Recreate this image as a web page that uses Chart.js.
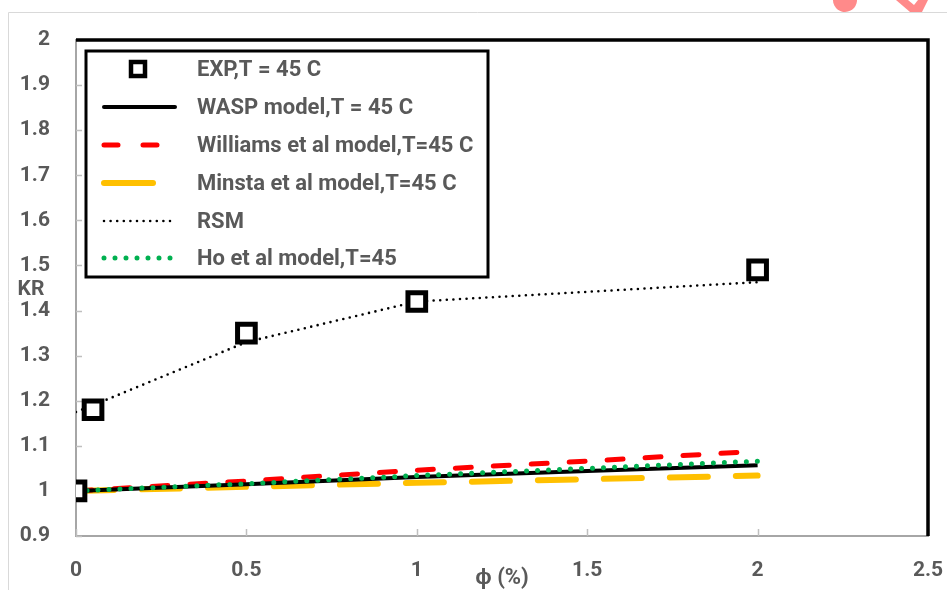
<!DOCTYPE html>
<html><head><meta charset="utf-8">
<script src="https://cdn.jsdelivr.net/npm/chart.js@4/dist/chart.umd.min.js"></script>
<style>html,body{margin:0;padding:0;background:#fff;overflow:hidden}</style>
</head>
<body>
<canvas id="c" width="947" height="590"></canvas>
<script>
// ---- data ----
const xTickVals = [0, 0.5, 1, 1.5, 2, 2.5];
const xTickLabels = ['0', '0.5', '1', '1.5', '2', '2.5'];
const yTickVals = [0.9, 1.0, 1.1, 1.2, 1.3, 1.4, 1.5, 1.6, 1.7, 1.8, 1.9, 2.0];
const yTickLabels = ['0.9', '1', '1.1', '1.2', '1.3', '1.4', '1.5', '1.6', '1.7', '1.8', '1.9', '2'];

const expPhi = [0, 0.05, 0.5, 1, 2];
const expKR = [1.00, 1.18, 1.35, 1.42, 1.49];

const rsmPhi = [0, 0.05, 0.5, 1, 2];
const rsmKR = [1.175, 1.19, 1.33, 1.42, 1.463];

const modelPhi = [0, 0.5, 1, 1.5, 2];
const waspKR = [1.000, 1.015, 1.031, 1.044, 1.057];
const williamsKR = [1.000, 1.022, 1.046, 1.066, 1.088];
const minstaKR = [1.000, 1.009, 1.018, 1.026, 1.034];
const hoKR = [1.000, 1.016, 1.034, 1.050, 1.066];

const seriesNames = ['EXP,T = 45 C', 'WASP model,T = 45 C', 'Williams et al model,T=45 C',
  'Minsta et al model,T=45 C', 'RSM', 'Ho et al model,T=45'];

const pts = (xs, ys) => xs.map((x, i) => ({x: x, y: ys[i]}));

const FONT = 'Roboto, "Liberation Sans", sans-serif';
const GREY = '#595959';

const datasets = [
  {label: seriesNames[0], data: pts(expPhi, expKR), showLine: false,
   pointStyle: 'rect', pointRadius: 12.5, pointBorderWidth: 5,
   pointBackgroundColor: '#ffffff', pointBorderColor: '#000000'},
  {label: seriesNames[4], data: pts(rsmPhi, rsmKR), showLine: true, pointRadius: 0,
   borderColor: '#000000', borderWidth: 2.6, borderDash: [0, 6.6], borderCapStyle: 'round'},
  {label: seriesNames[5], data: pts(modelPhi, hoKR), showLine: true, pointRadius: 0,
   borderColor: '#00B050', borderWidth: 5, borderDash: [0, 11], borderCapStyle: 'round'},
  {label: seriesNames[1], data: pts(modelPhi, waspKR), showLine: true, pointRadius: 0,
   borderColor: '#000000', borderWidth: 4},
  {label: seriesNames[2], data: pts(modelPhi, williamsKR), showLine: true, pointRadius: 0,
   borderColor: '#FF0000', borderWidth: 5, borderDash: [16, 22], borderCapStyle: 'round'},
  {label: seriesNames[3], data: pts(modelPhi, minstaKR), showLine: true, pointRadius: 0,
   borderColor: '#FFC000', borderWidth: 6, borderDash: [38, 28], borderCapStyle: 'round'}
];

const decor = {
  id: 'decor',
  beforeDatasetsDraw(chart) {
    const ctx = chart.ctx, a = chart.chartArea, xs = chart.scales.x, ys = chart.scales.y;
    ctx.save();
    // inner tick marks
    ctx.strokeStyle = '#bfbfbf'; ctx.lineWidth = 1.5;
    yTickVals.forEach(v => { const y = Math.round(ys.getPixelForValue(v)) + 0.5;
      ctx.beginPath(); ctx.moveTo(a.left, y); ctx.lineTo(a.left + 6, y); ctx.stroke(); });
    xTickVals.forEach(v => { const x = Math.round(xs.getPixelForValue(v)) + 0.5;
      ctx.beginPath(); ctx.moveTo(x, a.bottom); ctx.lineTo(x, a.bottom - 7); ctx.stroke(); });
    // black top/right frame
    ctx.strokeStyle = '#000'; ctx.lineWidth = 3.5;
    ctx.beginPath(); ctx.moveTo(a.left, a.top); ctx.lineTo(a.right, a.top); ctx.lineTo(a.right, a.bottom); ctx.stroke();
    ctx.restore();
  },
  afterDraw(chart) {
    const ctx = chart.ctx, ds = chart.data.datasets;
    ctx.save();
    // outer light frame
    ctx.strokeStyle = '#d9d9d9'; ctx.lineWidth = 1;
    ctx.beginPath(); ctx.moveTo(8.5, 590); ctx.lineTo(8.5, 12.5); ctx.lineTo(947, 12.5); ctx.stroke();
    // pink fragments at top right
    ctx.fillStyle = '#FF8A8A';
    ctx.beginPath(); ctx.ellipse(845, 0, 12, 12, 0.3, 0, Math.PI * 2); ctx.fill();
    ctx.beginPath(); ctx.moveTo(896, 0); ctx.lineTo(910, 12); ctx.lineTo(922, 12); ctx.lineTo(928, 0); ctx.closePath(); ctx.fill();
    ctx.fillStyle = '#ffffff';
    ctx.beginPath(); ctx.moveTo(908, 0); ctx.lineTo(914, 5); ctx.lineTo(918, 0); ctx.closePath(); ctx.fill();

    // legend box
    const L = 86, T = 51, R = 488, B = 277;
    ctx.fillStyle = '#fff'; ctx.fillRect(L, T, R - L, B - T);
    ctx.strokeStyle = '#000'; ctx.lineWidth = 3; ctx.strokeRect(L, T, R - L, B - T);
    const rows = [69, 107, 145, 183, 221, 258];
    const order = [0, 3, 4, 5, 1, 2]; // dataset index per legend row
    ctx.font = 'bold 22px ' + FONT; ctx.fillStyle = GREY; ctx.textBaseline = 'middle'; ctx.textAlign = 'left';
    rows.forEach((y, r) => {
      const d = ds[order[r]];
      ctx.fillStyle = GREY; ctx.fillText(d.label, 197, y + 1);
      ctx.save();
      if (r === 0) {
        ctx.strokeStyle = '#000'; ctx.lineWidth = 4.5; ctx.fillStyle = '#fff';
        ctx.fillRect(131, 62, 14, 14); ctx.strokeRect(131, 62, 14, 14);
      } else {
        ctx.strokeStyle = d.borderColor; ctx.lineWidth = d.borderWidth;
        ctx.lineCap = d.borderCapStyle || 'butt';
        ctx.setLineDash(d.borderDash || []);
        let x0 = 104, x1 = 175;
        if (r === 2) { x1 = 163; ctx.setLineDash([14, 25]); }
        if (r === 3) { x1 = 153; ctx.setLineDash([]); }
        if (r === 1) { ctx.lineCap = 'round'; }
        ctx.beginPath(); ctx.moveTo(x0, y); ctx.lineTo(x1, y); ctx.stroke();
      }
      ctx.restore();
    });

    // axis titles
    ctx.fillStyle = GREY; ctx.textAlign = 'center'; ctx.textBaseline = 'middle';
    ctx.font = 'bold 21px ' + FONT; ctx.fillText('KR', 31, 290);
    ctx.font = 'bold 22px ' + FONT; ctx.fillText('\u03D5 (%)', 502, 578);
    ctx.restore();
  }
};

new Chart(document.getElementById('c'), {
  type: 'scatter',
  data: {datasets: datasets},
  options: {
    responsive: false, animation: false, devicePixelRatio: 1,
    layout: {padding: {left: 0, top: 40, right: 19, bottom: 0}},
    plugins: {legend: {display: false}, tooltip: {enabled: false}, title: {display: false}},
    elements: {line: {tension: 0}},
    scales: {
      x: {
        type: 'linear', min: 0, max: 2.5,
        afterBuildTicks: s => { s.ticks = xTickVals.map(v => ({value: v})); },
        afterFit: s => { s.height = 54; s.paddingLeft = 0; s.paddingRight = 0; },
        grid: {display: false, drawTicks: false},
        border: {display: true, color: '#a6a6a6', width: 2},
        ticks: {padding: 22, color: GREY, font: {family: FONT, size: 21, weight: 'bold'},
          callback: (v) => xTickLabels[xTickVals.indexOf(v)], maxRotation: 0, autoSkip: false}
      },
      y: {
        type: 'linear', min: 0.9, max: 2.0,
        afterBuildTicks: s => { s.ticks = yTickVals.map(v => ({value: v})); },
        afterFit: s => { s.width = 76; s.paddingTop = 0; s.paddingBottom = 0; },
        grid: {display: false, drawTicks: false},
        border: {display: true, color: '#a6a6a6', width: 2},
        ticks: {padding: 26, color: GREY, font: {family: FONT, size: 21, weight: 'bold'},
          callback: (v) => { const i = yTickVals.findIndex(t => Math.abs(t - v) < 1e-9); return i >= 0 ? yTickLabels[i] : ''; },
          autoSkip: false}
      }
    }
  },
  plugins: [decor]
});
</script>
</body></html>
